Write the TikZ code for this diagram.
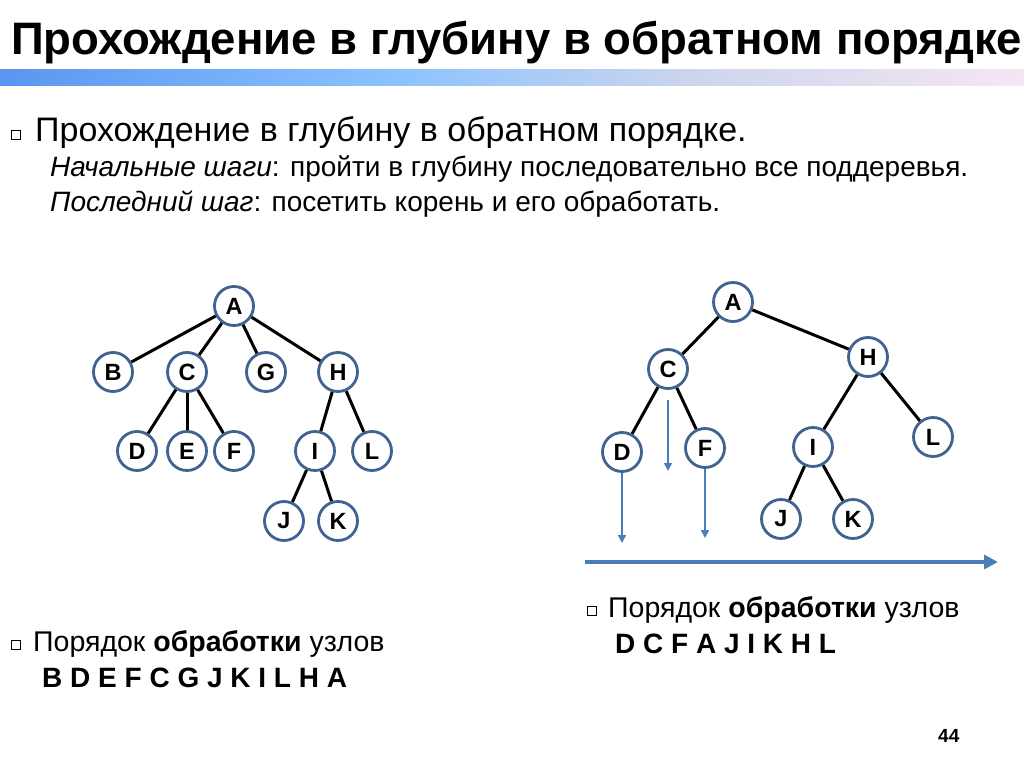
\documentclass[tikz,border=0pt]{standalone}
\usepackage{fontspec}
\setmainfont{Liberation Sans}
\usetikzlibrary{arrows.meta}
\definecolor{nodeblue}{RGB}{64,99,145}
\definecolor{arrblue}{RGB}{74,126,187}
\definecolor{gA}{RGB}{90,150,240}
\definecolor{gB}{RGB}{138,194,255}
\definecolor{gC}{RGB}{206,214,236}
\definecolor{gD}{RGB}{246,230,244}
\begin{document}
\begin{tikzpicture}[x=1pt,y=-1pt,
  tn/.style={circle,draw=nodeblue,line width=2.8pt,minimum size=39pt,inner sep=0pt,fill=white,font=\fontsize{23.5}{23.5}\selectfont\bfseries},
  edge/.style={line width=3pt,black},
  txt/.style={anchor=base west,inner sep=0pt},
  bsq/.style={draw,line width=0.8pt,minimum size=8.5pt,inner sep=0pt},
  thinarr/.style={arrblue,line width=1.5pt,-{Triangle[length=8pt,width=8pt]}},
  bigarr/.style={arrblue,line width=4pt,-{Triangle[length=14pt,width=14pt]}}]
\useasboundingbox (0,0) rectangle (1024,767);
\fill[white] (0,0) rectangle (1024,767);
% gradient bar
\shade[left color=gA,right color=gB] (0,70) rectangle (390,86);
\shade[left color=gB,right color=gC] (389.5,70) rectangle (700,86);
\shade[left color=gC,right color=gD] (699.5,70) rectangle (1024,86);
% title
\node[txt] (title) at (11,55) {\fontsize{45.5}{45.5}\selectfont\bfseries Прохождение в глубину в обратном порядке};
% bullet text
\node[bsq] (sq1) at (16,135) {};
\node[txt] (l1) at (35,142) {\fontsize{34}{34}\selectfont Прохождение в глубину в обратном порядке.};
\node[txt] (l2) at (50,177) {\fontsize{28}{28}\selectfont\itshape Начальные шаги\upshape: пройти в глубину последовательно все поддеревья.};
\node[txt] (l3) at (50,212) {\fontsize{28}{28}\selectfont\itshape Последний шаг\upshape: посетить корень и его обработать.};
% left tree
\node[tn] (A) at (234,306) {A};
\node[tn] (B) at (113,372) {B};
\node[tn] (C) at (187,372) {C};
\node[tn] (G) at (266,372) {G};
\node[tn] (H) at (338,372) {H};
\node[tn] (D) at (137,451) {D};
\node[tn] (E) at (187,451) {E};
\node[tn] (F) at (234,451) {F};
\node[tn] (I) at (315,451) {I};
\node[tn] (L) at (372,451) {L};
\node[tn] (J) at (284,521) {J};
\node[tn] (K) at (338,521) {K};
\draw[edge] (A) -- (B); \draw[edge] (A) -- (C); \draw[edge] (A) -- (G); \draw[edge] (A) -- (H);
\draw[edge] (C) -- (D); \draw[edge] (C) -- (E); \draw[edge] (C) -- (F);
\draw[edge] (H) -- (I); \draw[edge] (H) -- (L);
\draw[edge] (I) -- (J); \draw[edge] (I) -- (K);
% right tree
\node[tn] (rA) at (733,302) {A};
\node[tn] (rC) at (668,369) {C};
\node[tn] (rH) at (868,357) {H};
\node[tn] (rD) at (622,452) {D};
\node[tn] (rF) at (705,448) {F};
\node[tn] (rI) at (813,447) {I};
\node[tn] (rL) at (933,437) {L};
\node[tn] (rJ) at (781,519) {J};
\node[tn] (rK) at (853,519) {K};
\draw[edge] (rA) -- (rC); \draw[edge] (rA) -- (rH);
\draw[edge] (rC) -- (rD); \draw[edge] (rC) -- (rF);
\draw[edge] (rH) -- (rI); \draw[edge] (rH) -- (rL);
\draw[edge] (rI) -- (rJ); \draw[edge] (rI) -- (rK);
% blue arrows
\coordinate (cs) at (668,400);
\coordinate (ce) at (668,471);
\coordinate (de) at (622,543);
\coordinate (fe) at (705,538);
\draw[thinarr] (cs) -- (ce);
\draw[thinarr] (rD.south) -- (de);
\draw[thinarr] (rF.south) -- (fe);
\coordinate (bs) at (585,562);
\coordinate (be) at (998,562);
\draw[bigarr] (bs) -- (be);
% bottom texts
\node[bsq] (sq2) at (16,645) {};
\node[txt] (o1) at (33,651) {\fontsize{28.5}{28.5}\selectfont Порядок \bfseries обработки\mdseries{} узлов};
\node[txt] (s1) at (42,687) {\fontsize{28}{28}\selectfont\bfseries B D E F C G J K I L H A};
\node[bsq] (sq3) at (592,611) {};
\node[txt] (o2) at (608,617) {\fontsize{28.5}{28.5}\selectfont Порядок \bfseries обработки\mdseries{} узлов};
\node[txt] (s2) at (615,653) {\fontsize{28}{28}\selectfont\bfseries D C F A J I K H L};
\node[txt] (pg) at (938,742) {\fontsize{19}{19}\selectfont\bfseries 44};
\end{tikzpicture}
\end{document}
